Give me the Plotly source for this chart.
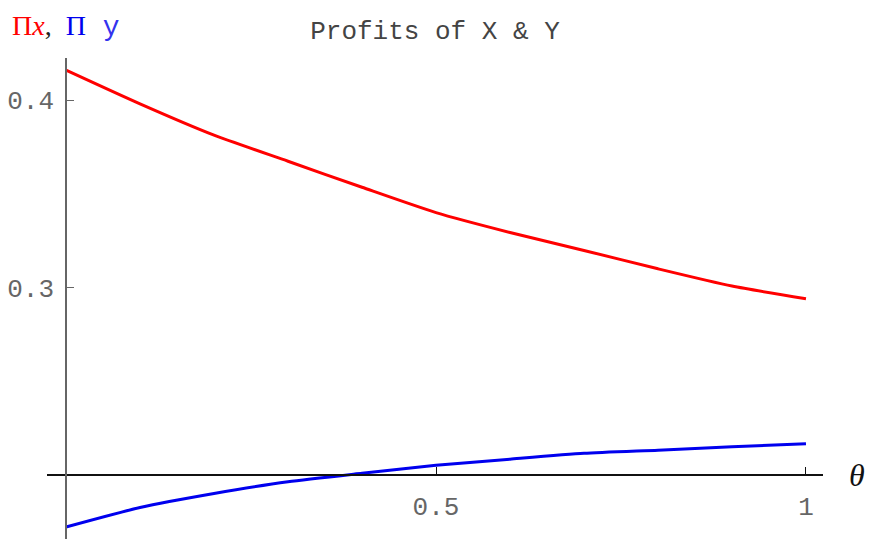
import plotly.graph_objects as go

# Profit of firm X and firm Y as functions of theta
theta = [0.0, 0.1, 0.2, 0.3, 0.4, 0.5, 0.6, 0.7, 0.8, 0.9, 1.0]
profit_x = [0.416, 0.398, 0.3813, 0.3674, 0.3535, 0.3400, 0.3294, 0.3198, 0.3100, 0.3008, 0.2940]
profit_y = [0.1722, 0.1826, 0.1901, 0.1964, 0.2009, 0.2051, 0.2084, 0.2115, 0.2132, 0.2150, 0.2166]

x_ticks = [0.5, 1.0]
x_tick_text = ["0.5", "1"]
y_ticks = [0.3, 0.4]
y_tick_text = ["0.3", "0.4"]

x_range = [-0.0257, 1.023]
y_range = [0.1658, 0.4225]
x_origin = 0.0
y_origin = 0.2

mono = "Liberation Mono, Courier New, monospace"
serif = "Liberation Serif, Times New Roman, serif"

fig = go.Figure()
fig.add_trace(go.Scatter(x=theta, y=profit_x, mode="lines",
                         line=dict(color="#ff0000", width=3, shape="spline", smoothing=0.6),
                         hoverinfo="skip"))
fig.add_trace(go.Scatter(x=theta, y=profit_y, mode="lines",
                         line=dict(color="#0000ee", width=3, shape="spline", smoothing=0.6),
                         hoverinfo="skip"))

# axes cross at (0, 0.2)
x_pos = (y_origin - y_range[0]) / (y_range[1] - y_range[0])
y_pos = (x_origin - x_range[0]) / (x_range[1] - x_range[0])

fig.update_layout(
    width=869, height=539,
    margin=dict(l=47, r=46, t=58, b=0),
    paper_bgcolor="white", plot_bgcolor="white",
    showlegend=False,
    title=dict(text="Profits of X & Y", x=0.5, xref="paper", xanchor="center",
               y=1 - 30 / 539, yref="container", yanchor="middle",
               font=dict(family=mono, size=26, color="#444444")),
    xaxis=dict(range=x_range, anchor="free", position=x_pos, showgrid=False,
               zeroline=False, showline=True, linecolor="#111111", linewidth=1.5,
               tickmode="array", tickvals=x_ticks, ticktext=x_tick_text,
               ticks="inside", ticklen=7, tickwidth=1.2, tickcolor="#111111",
               ticklabelstandoff=8,
               tickfont=dict(family=mono, size=26, color="#666666")),
    yaxis=dict(range=y_range, anchor="free", position=y_pos, showgrid=False,
               zeroline=False, showline=True, linecolor="#666666", linewidth=1.5,
               tickmode="array", tickvals=y_ticks, ticktext=y_tick_text,
               ticks="inside", ticklen=7, tickwidth=1.2, tickcolor="#666666",
               ticklabelstandoff=6,
               tickfont=dict(family=mono, size=26, color="#666666")),
    annotations=[
        dict(text="<span style='color:#ff0000'>Π<i>x</i></span>,  "
                  "<span style='color:#0000ee'>Π</span>"
                  "<span style='color:#3333ee;font-family:Liberation Mono'> y</span>",
             xref="paper", yref="paper", x=-37 / 776, y=1 + 32 / 481,
             xanchor="left", yanchor="middle", showarrow=False,
             font=dict(family=serif, size=28, color="#222222")),
        dict(text="<i>θ</i>", xref="paper", yref="y", x=1 + 24 / 776, y=y_origin,
             xanchor="left", yanchor="middle", showarrow=False,
             font=dict(family=serif, size=32, color="#111111")),
    ],
)

fig.write_html("out.html", config={"displayModeBar": False})
